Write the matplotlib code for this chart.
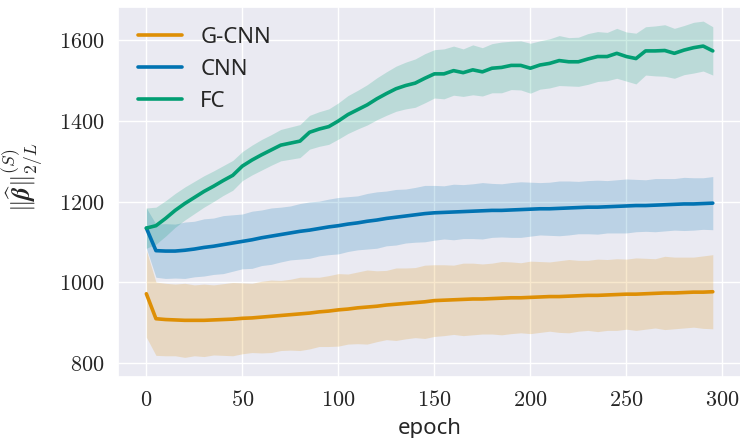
import numpy as np
import matplotlib

matplotlib.use('Agg')
import matplotlib.pyplot as plt
import seaborn as sns
from matplotlib.ticker import FuncFormatter

sns.set_theme(style='darkgrid', palette='colorblind')
plt.rcParams['font.family'] = ['Noto Sans', 'DejaVu Sans']
plt.rcParams['mathtext.fontset'] = 'cm'

epochs = np.arange(0, 300, 5)

gcnn_mean = [971, 909, 907, 906, 905, 905, 905, 906, 907, 908,
             910, 911, 913, 915, 917, 919, 921, 923, 926, 928,
             931, 933, 936, 938, 940, 943, 945, 947, 949, 951,
             954, 955, 956, 957, 958, 958, 959, 960, 961, 961,
             962, 963, 964, 964, 965, 966, 967, 967, 968, 969,
             970, 970, 971, 972, 973, 973, 974, 975, 975, 976]
gcnn_spread = [108, 91, 90, 89, 92, 88, 90, 87, 89, 91,
               88, 86, 89, 90, 87, 88, 91, 89, 86, 88,
               90, 87, 89, 92, 88, 86, 90, 88, 87, 91,
               89, 88, 86, 90, 89, 87, 88, 91, 89, 87,
               90, 88, 86, 89, 91, 88, 87, 90, 88, 89,
               87, 90, 88, 86, 91, 89, 88, 87, 90, 92]

cnn_mean = [1134, 1078, 1077, 1077, 1079, 1082, 1086, 1089, 1093, 1097,
            1101, 1105, 1110, 1114, 1118, 1122, 1126, 1129, 1133, 1137,
            1140, 1144, 1147, 1151, 1154, 1158, 1161, 1164, 1167, 1170,
            1172, 1173, 1174, 1175, 1176, 1177, 1178, 1178, 1179, 1180,
            1181, 1182, 1182, 1183, 1184, 1185, 1186, 1186, 1187, 1188,
            1189, 1190, 1190, 1191, 1192, 1193, 1194, 1194, 1195, 1196]
cnn_spread = [50, 66, 68, 67, 70, 69, 71, 70, 72, 70,
              68, 71, 69, 70, 68, 67, 69, 70, 68, 69,
              70, 68, 67, 69, 70, 68, 69, 67, 68, 70,
              68, 66, 69, 67, 68, 70, 67, 66, 68, 69,
              67, 65, 66, 68, 67, 65, 66, 67, 65, 66,
              67, 65, 64, 66, 65, 64, 66, 65, 64, 66]

fc_mean = [1134, 1140, 1158, 1178, 1195, 1210, 1225, 1238, 1252, 1265,
           1288, 1303, 1316, 1328, 1340, 1345, 1350, 1372, 1380, 1386,
           1400, 1416, 1428, 1440, 1455, 1468, 1480, 1488, 1494, 1506,
           1517, 1517, 1525, 1520, 1527, 1522, 1531, 1533, 1538, 1538,
           1531, 1539, 1543, 1550, 1547, 1547, 1554, 1560, 1560, 1568,
           1560, 1555, 1574, 1574, 1575, 1568, 1576, 1582, 1586, 1574]
fc_spread = [50, 46, 44, 42, 41, 40, 39, 38, 37, 37,
             36, 37, 38, 38, 39, 40, 41, 42, 43, 44,
             45, 47, 48, 50, 52, 54, 56, 58, 60, 61,
             60, 62, 61, 59, 62, 60, 61, 63, 60, 61,
             62, 60, 61, 62, 60, 61, 63, 62, 60, 62,
             61, 63, 60, 62, 64, 62, 61, 63, 62, 60]

series = [
    ('G-CNN', gcnn_mean, gcnn_spread, '#de8f05'),
    ('CNN', cnn_mean, cnn_spread, '#0173b2'),
    ('FC', fc_mean, fc_spread, '#029e73'),
]

fig = plt.figure(figsize=(7.4, 4.38), dpi=100)
ax = fig.add_axes([0.1595, 0.139, 0.842, 0.845])

for name, mean, spread, color in series:
    mean = np.array(mean)
    spread = np.array(spread)
    ax.fill_between(epochs, mean - spread, mean + spread, color=color, alpha=0.2, lw=0)
    ax.plot(epochs, mean, color=color, lw=2.6, label=name)

ax.set_xlim(-14.75, 309.75)
ax.set_ylim(764, 1683)
ax.set_xticks([0, 50, 100, 150, 200, 250, 300])
ax.set_yticks([800, 1000, 1200, 1400, 1600])
ax.xaxis.set_major_formatter(FuncFormatter(lambda v, p: f'${v:.0f}$'))
ax.yaxis.set_major_formatter(FuncFormatter(lambda v, p: f'${v:.0f}$'))
ax.tick_params(labelsize=16, colors='.15')

ax.set_xlabel('epoch', fontsize=16, color='.15', labelpad=5)
ax.set_ylabel(r'$\|\widehat{\boldsymbol{\beta}}\|_{2/L}^{(S)}$', fontsize=18, color='.15')
ax.yaxis.set_label_coords(-0.115, 0.54)

ax.legend(loc='upper left', frameon=False, fontsize=16, handlelength=2.0,
          borderaxespad=0.5, labelspacing=0.5)

plt.savefig('out.png', dpi=100)
